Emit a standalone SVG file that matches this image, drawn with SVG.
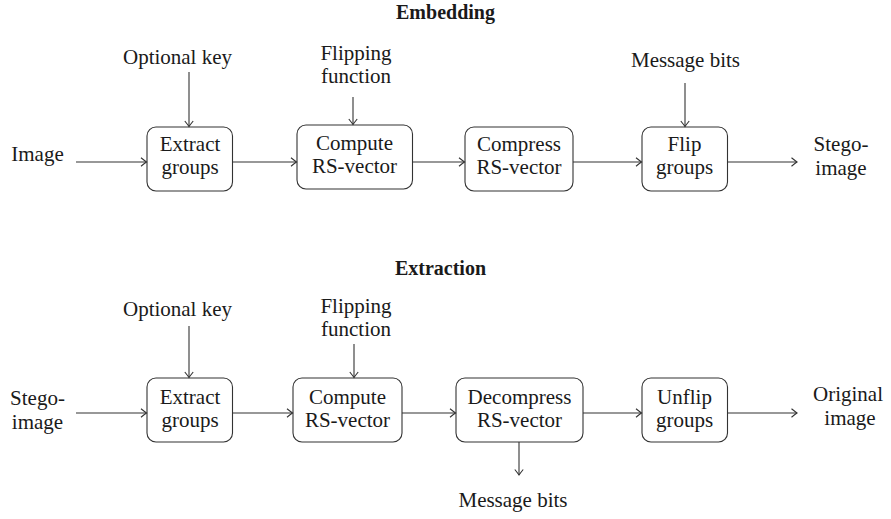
<svg xmlns="http://www.w3.org/2000/svg" width="891" height="519" viewBox="0 0 891 519">
<style>
text{font-family:"Liberation Serif","Times New Roman",serif;font-size:21px;fill:#1a1a1a;text-anchor:middle}
.title{font-weight:bold;font-size:20px}
.box{fill:#fff;stroke:#333;stroke-width:1.1}
.conn line{stroke:#333;stroke-width:1.1;fill:none;marker-end:url(#arr)}
</style>
<defs>
<marker id="arr" markerUnits="userSpaceOnUse" markerWidth="12" markerHeight="12" viewBox="-7 -6 8 12" refX="0" refY="0" orient="auto">
<path d="M-5.5,-4.2 Q-1.5,-1 0,0 Q-1.5,1 -5.5,4.2" fill="none" stroke="#333" stroke-width="1.1"/>
</marker>
</defs>
<rect width="891" height="519" fill="#fff"/>

<text class="title" x="445.5" y="19">Embedding</text>
<text class="title" x="440.5" y="275">Extraction</text>

<!-- Embedding row -->
<g id="in1"><text x="37.5" y="161">Image</text></g>
<g id="key1"><text x="177.5" y="64">Optional key</text></g>
<g id="flipfn1"><text x="356" y="60">Flipping</text><text x="356" y="83">function</text></g>
<g id="msg1"><text x="685.5" y="67">Message bits</text></g>
<g id="out1"><text x="841" y="151">Stego-</text><text x="841" y="175">image</text></g>

<g id="extract1"><rect class="box" x="147" y="127" width="85.5" height="64" rx="9"/><text x="190" y="151">Extract</text><text x="190" y="174">groups</text></g>
<g id="compute1"><rect class="box" x="297" y="125" width="115.5" height="64" rx="9"/><text x="354.5" y="150">Compute</text><text x="354.5" y="173">RS-vector</text></g>
<g id="compress1"><rect class="box" x="465" y="127" width="108" height="64" rx="9"/><text x="519" y="151">Compress</text><text x="519" y="174">RS-vector</text></g>
<g id="flip1"><rect class="box" x="642" y="127" width="85.5" height="64" rx="9"/><text x="684.5" y="151">Flip</text><text x="684.5" y="174">groups</text></g>

<!-- Extraction row -->
<g id="in2"><text x="37.5" y="405">Stego-</text><text x="37.5" y="429">image</text></g>
<g id="key2"><text x="177.5" y="316">Optional key</text></g>
<g id="flipfn2"><text x="356" y="313">Flipping</text><text x="356" y="336">function</text></g>
<g id="out2"><text x="848" y="401">Original</text><text x="850" y="425">image</text></g>
<g id="msg2"><text x="513" y="507">Message bits</text></g>

<g id="extract2"><rect class="box" x="147" y="378" width="85.5" height="64" rx="9"/><text x="190" y="404">Extract</text><text x="190" y="427">groups</text></g>
<g id="compute2"><rect class="box" x="293" y="378" width="109" height="64" rx="9"/><text x="347.5" y="404">Compute</text><text x="347.5" y="427">RS-vector</text></g>
<g id="decompress2"><rect class="box" x="456" y="378" width="127" height="64" rx="9"/><text x="519.5" y="404">Decompress</text><text x="519.5" y="427">RS-vector</text></g>
<g id="unflip2"><rect class="box" x="642" y="378" width="85.5" height="64" rx="9"/><text x="684.5" y="404">Unflip</text><text x="684.5" y="427">groups</text></g>

<g class="conn" id="connectors">
<line x1="76" y1="162" x2="146.5" y2="162"/>
<line x1="189" y1="72" x2="189" y2="126.5"/>
<line x1="232.5" y1="162" x2="296.5" y2="162"/>
<line x1="353" y1="97" x2="353" y2="124.5"/>
<line x1="412.5" y1="162" x2="464.5" y2="162"/>
<line x1="573" y1="162" x2="641.5" y2="162"/>
<line x1="685" y1="83" x2="685" y2="126.5"/>
<line x1="727.5" y1="162" x2="797" y2="162"/>

<line x1="76" y1="413" x2="146.5" y2="413"/>
<line x1="189" y1="326" x2="189" y2="377.5"/>
<line x1="232.5" y1="413" x2="292.5" y2="413"/>
<line x1="354" y1="344" x2="354" y2="377.5"/>
<line x1="402" y1="413" x2="455.5" y2="413"/>
<line x1="583" y1="413" x2="641.5" y2="413"/>
<line x1="727.5" y1="413" x2="797" y2="413"/>
<line x1="519" y1="442" x2="519" y2="475"/>
</g>
</svg>
